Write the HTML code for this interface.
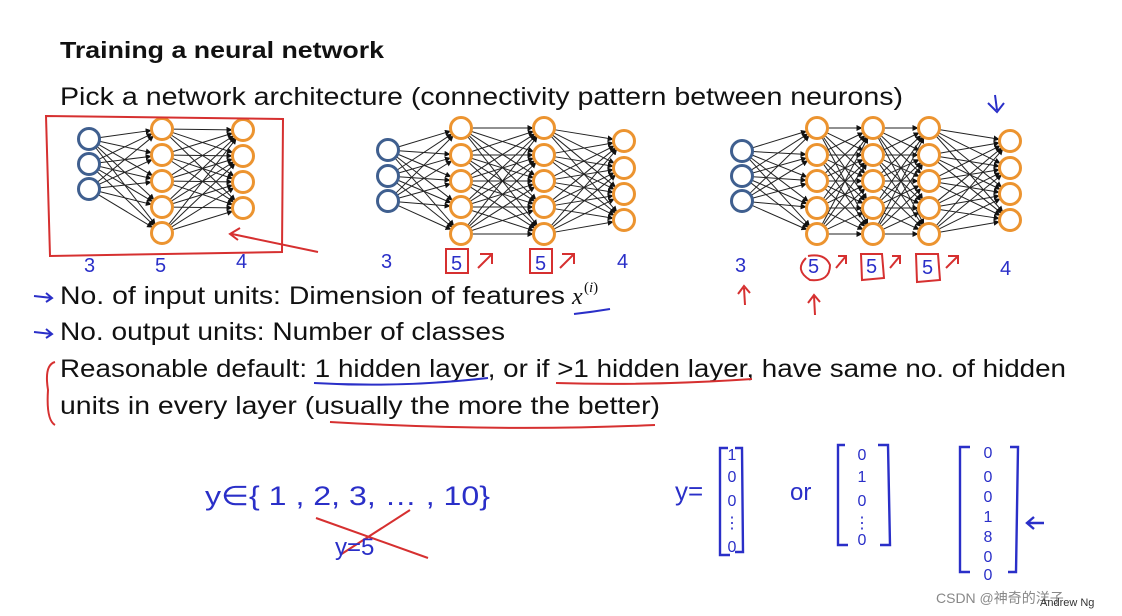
<!DOCTYPE html>
<html><head><meta charset="utf-8"><style>
html,body{margin:0;padding:0;background:#fff;width:1122px;height:616px;overflow:hidden}
svg{display:block}
.t{font-family:"Liberation Sans",sans-serif;fill:#111}
.h{font-family:"Liberation Sans",sans-serif;fill:#2a2fc8}
</style></head><body>
<svg id="s" width="1122" height="616" viewBox="0 0 1122 616" xmlns="http://www.w3.org/2000/svg">
<defs><marker id="a" markerWidth="6" markerHeight="6" refX="5" refY="3" orient="auto"><path d="M0,0 L6,3 L0,6 z" fill="#111"/></marker></defs>
<g id="lines" stroke="#222" stroke-width="1" marker-end="url(#a)"></g>
<g id="nodes" fill="#fff" stroke-width="3"></g>

<text class="t" x="60" y="58" font-size="23" font-weight="bold" textLength="324" lengthAdjust="spacingAndGlyphs">Training a neural network</text>
<text class="t" x="60" y="105" font-size="25" textLength="843" lengthAdjust="spacingAndGlyphs">Pick a network architecture (connectivity pattern between neurons)</text>
<text class="t" x="60" y="304" font-size="25" textLength="505" lengthAdjust="spacingAndGlyphs">No. of input units: Dimension of features</text>
<text x="572" y="304" font-size="24" font-style="italic" font-family="Liberation Serif,serif" fill="#111">x</text>
<text x="584" y="292" font-size="15" font-family="Liberation Serif,serif" fill="#111">(<tspan font-style="italic">i</tspan>)</text>
<text class="t" x="60" y="340" font-size="25" textLength="445" lengthAdjust="spacingAndGlyphs">No. output units: Number of classes</text>
<text class="t" x="60" y="377" font-size="25" textLength="1006" lengthAdjust="spacingAndGlyphs">Reasonable default: 1 hidden layer, or if &gt;1 hidden layer, have same no. of hidden</text>
<text class="t" x="60" y="414" font-size="25" textLength="600" lengthAdjust="spacingAndGlyphs">units in every layer (usually the more the better)</text>

<g stroke="#2a2fc8" stroke-width="2" fill="none">
<path d="M34,296 L52,298 M46,293 L52,298 L46,302"/>
<path d="M34,332 L52,334 M46,329 L52,334 L46,338"/>
<path d="M574,314 Q592,312 610,309"/>
<path d="M314,383 Q400,388 488,378"/>
<path d="M995,95 L997,110 M988,103 L997,112 L1004,103"/>
</g>
<g stroke="#d63030" stroke-width="2" fill="none">
<path d="M46,116 L283,119 L282,252 L50,256 Z"/>
<path d="M318,252 L232,234 M240,228 L230,234 L238,240"/>
<rect x="446" y="249" width="22" height="24"/>
<path d="M478,268 L492,254 M480,254 L492,254 L492,264"/>
<rect x="530" y="249" width="22" height="24"/>
<path d="M560,268 L574,254 M562,254 L574,254 L574,264"/>
<path d="M806,258 Q794,270 810,280 Q830,282 830,265 Q825,253 808,256"/>
<path d="M836,268 L846,256 M838,256 L846,256 L846,264"/>
<path d="M861,254 L882,254 L884,278 L862,280 Z"/>
<path d="M890,268 L900,256 M892,256 L900,256 L900,264"/>
<path d="M916,254 L938,254 L940,280 L917,282 Z"/>
<path d="M946,268 L958,256 M948,256 L958,256 L958,264"/>
<path d="M745,305 L744,288 M738,294 L744,286 L750,293"/>
<path d="M815,315 L814,296 M808,303 L814,295 L820,302"/>
<path d="M55,362 Q44,365 48,390 Q46,420 55,425"/>
<path d="M556,383 Q650,386 752,379"/>
<path d="M330,422 Q500,432 655,425"/>
<path d="M316,518 L428,558 M410,510 L340,555"/>
</g>
<g class="h" font-size="20" font-family="Liberation Sans,sans-serif">
<text x="84" y="272">3</text><text x="155" y="272">5</text><text x="236" y="268">4</text>
<text x="381" y="268">3</text><text x="451" y="270">5</text><text x="535" y="270">5</text><text x="617" y="268">4</text>
<text x="735" y="272">3</text><text x="808" y="273">5</text><text x="866" y="273">5</text><text x="922" y="274">5</text><text x="1000" y="275">4</text>
</g>
<g class="h" font-family="Liberation Sans,sans-serif">
<text x="205" y="505" font-size="27" textLength="285" lengthAdjust="spacingAndGlyphs">y∈{ 1 , 2, 3, … , 10}</text>
<text x="335" y="555" font-size="24">y=5</text>
<text x="675" y="500" font-size="26">y=</text>
<text x="790" y="500" font-size="24">or</text>
</g>
<g stroke="#2a2fc8" stroke-width="2.4" fill="none">
<path d="M728,448 L720,448 L720,555 L730,555"/><path d="M735,448 L742,448 L743,552 L735,552"/>
<path d="M845,445 L838,445 L838,545 L848,545"/><path d="M878,445 L888,445 L890,545 L880,545"/>
<path d="M970,447 L960,447 L960,572 L970,572"/><path d="M1010,447 L1018,447 L1016,572 L1008,572"/>
<path d="M1044,523 L1028,523 M1034,517 L1027,523 L1034,529"/>
</g>
<g class="h" font-size="16" font-family="Liberation Sans,sans-serif" text-anchor="middle">
<text x="732" y="460">1</text><text x="732" y="482">0</text><text x="732" y="506">0</text><text x="732" y="528">⋮</text><text x="732" y="552">0</text>
<text x="862" y="460">0</text><text x="862" y="482">1</text><text x="862" y="506">0</text><text x="862" y="528">⋮</text><text x="862" y="545">0</text>
<text x="988" y="458">0</text><text x="988" y="482">0</text><text x="988" y="502">0</text><text x="988" y="522">1</text><text x="988" y="542">8</text><text x="988" y="562">0</text><text x="988" y="580">0</text>
</g>
<text x="936" y="603" font-size="14" font-family="Liberation Sans,'Noto Sans CJK SC',sans-serif" fill="#888">CSDN @神奇的洋子</text>
<text x="1040" y="606" font-size="11" font-family="Liberation Sans,sans-serif" fill="#333">Andrew Ng</text>
</svg>
<script>
var nets=[
 [[89,[139,164,189]],[162,[129,155,181,207,233]],[243,[130,156,182,208]]],
 [[388,[150,176,201]],[461,[128,155,181,207,234]],[544,[128,155,181,207,234]],[624,[141,168,194,220]]],
 [[742,[151,176,201]],[817,[128,155,181,208,234]],[873,[128,155,181,208,234]],[929,[128,155,181,208,234]],[1010,[141,168,194,220]]]
];
var ns="http://www.w3.org/2000/svg",L=document.getElementById('lines'),N=document.getElementById('nodes'),r=10.5;
nets.forEach(function(net){
 for(var i=0;i<net.length-1;i++){var a=net[i],b=net[i+1];
  a[1].forEach(function(y1){b[1].forEach(function(y2){
   var dx=b[0]-a[0],dy=y2-y1,d=Math.sqrt(dx*dx+dy*dy);
   var l=document.createElementNS(ns,'line');
   l.setAttribute('x1',a[0]+dx*r/d);l.setAttribute('y1',y1+dy*r/d);
   l.setAttribute('x2',b[0]-dx*(r+1)/d);l.setAttribute('y2',y2-dy*(r+1)/d);L.appendChild(l);});});}
 net.forEach(function(layer,i){layer[1].forEach(function(y){
  var c=document.createElementNS(ns,'circle');c.setAttribute('cx',layer[0]);c.setAttribute('cy',y);c.setAttribute('r',r);
  c.setAttribute('stroke',i==0?'#3f5f8f':'#ec9430');N.appendChild(c);});});
});
</script>
</body></html>
